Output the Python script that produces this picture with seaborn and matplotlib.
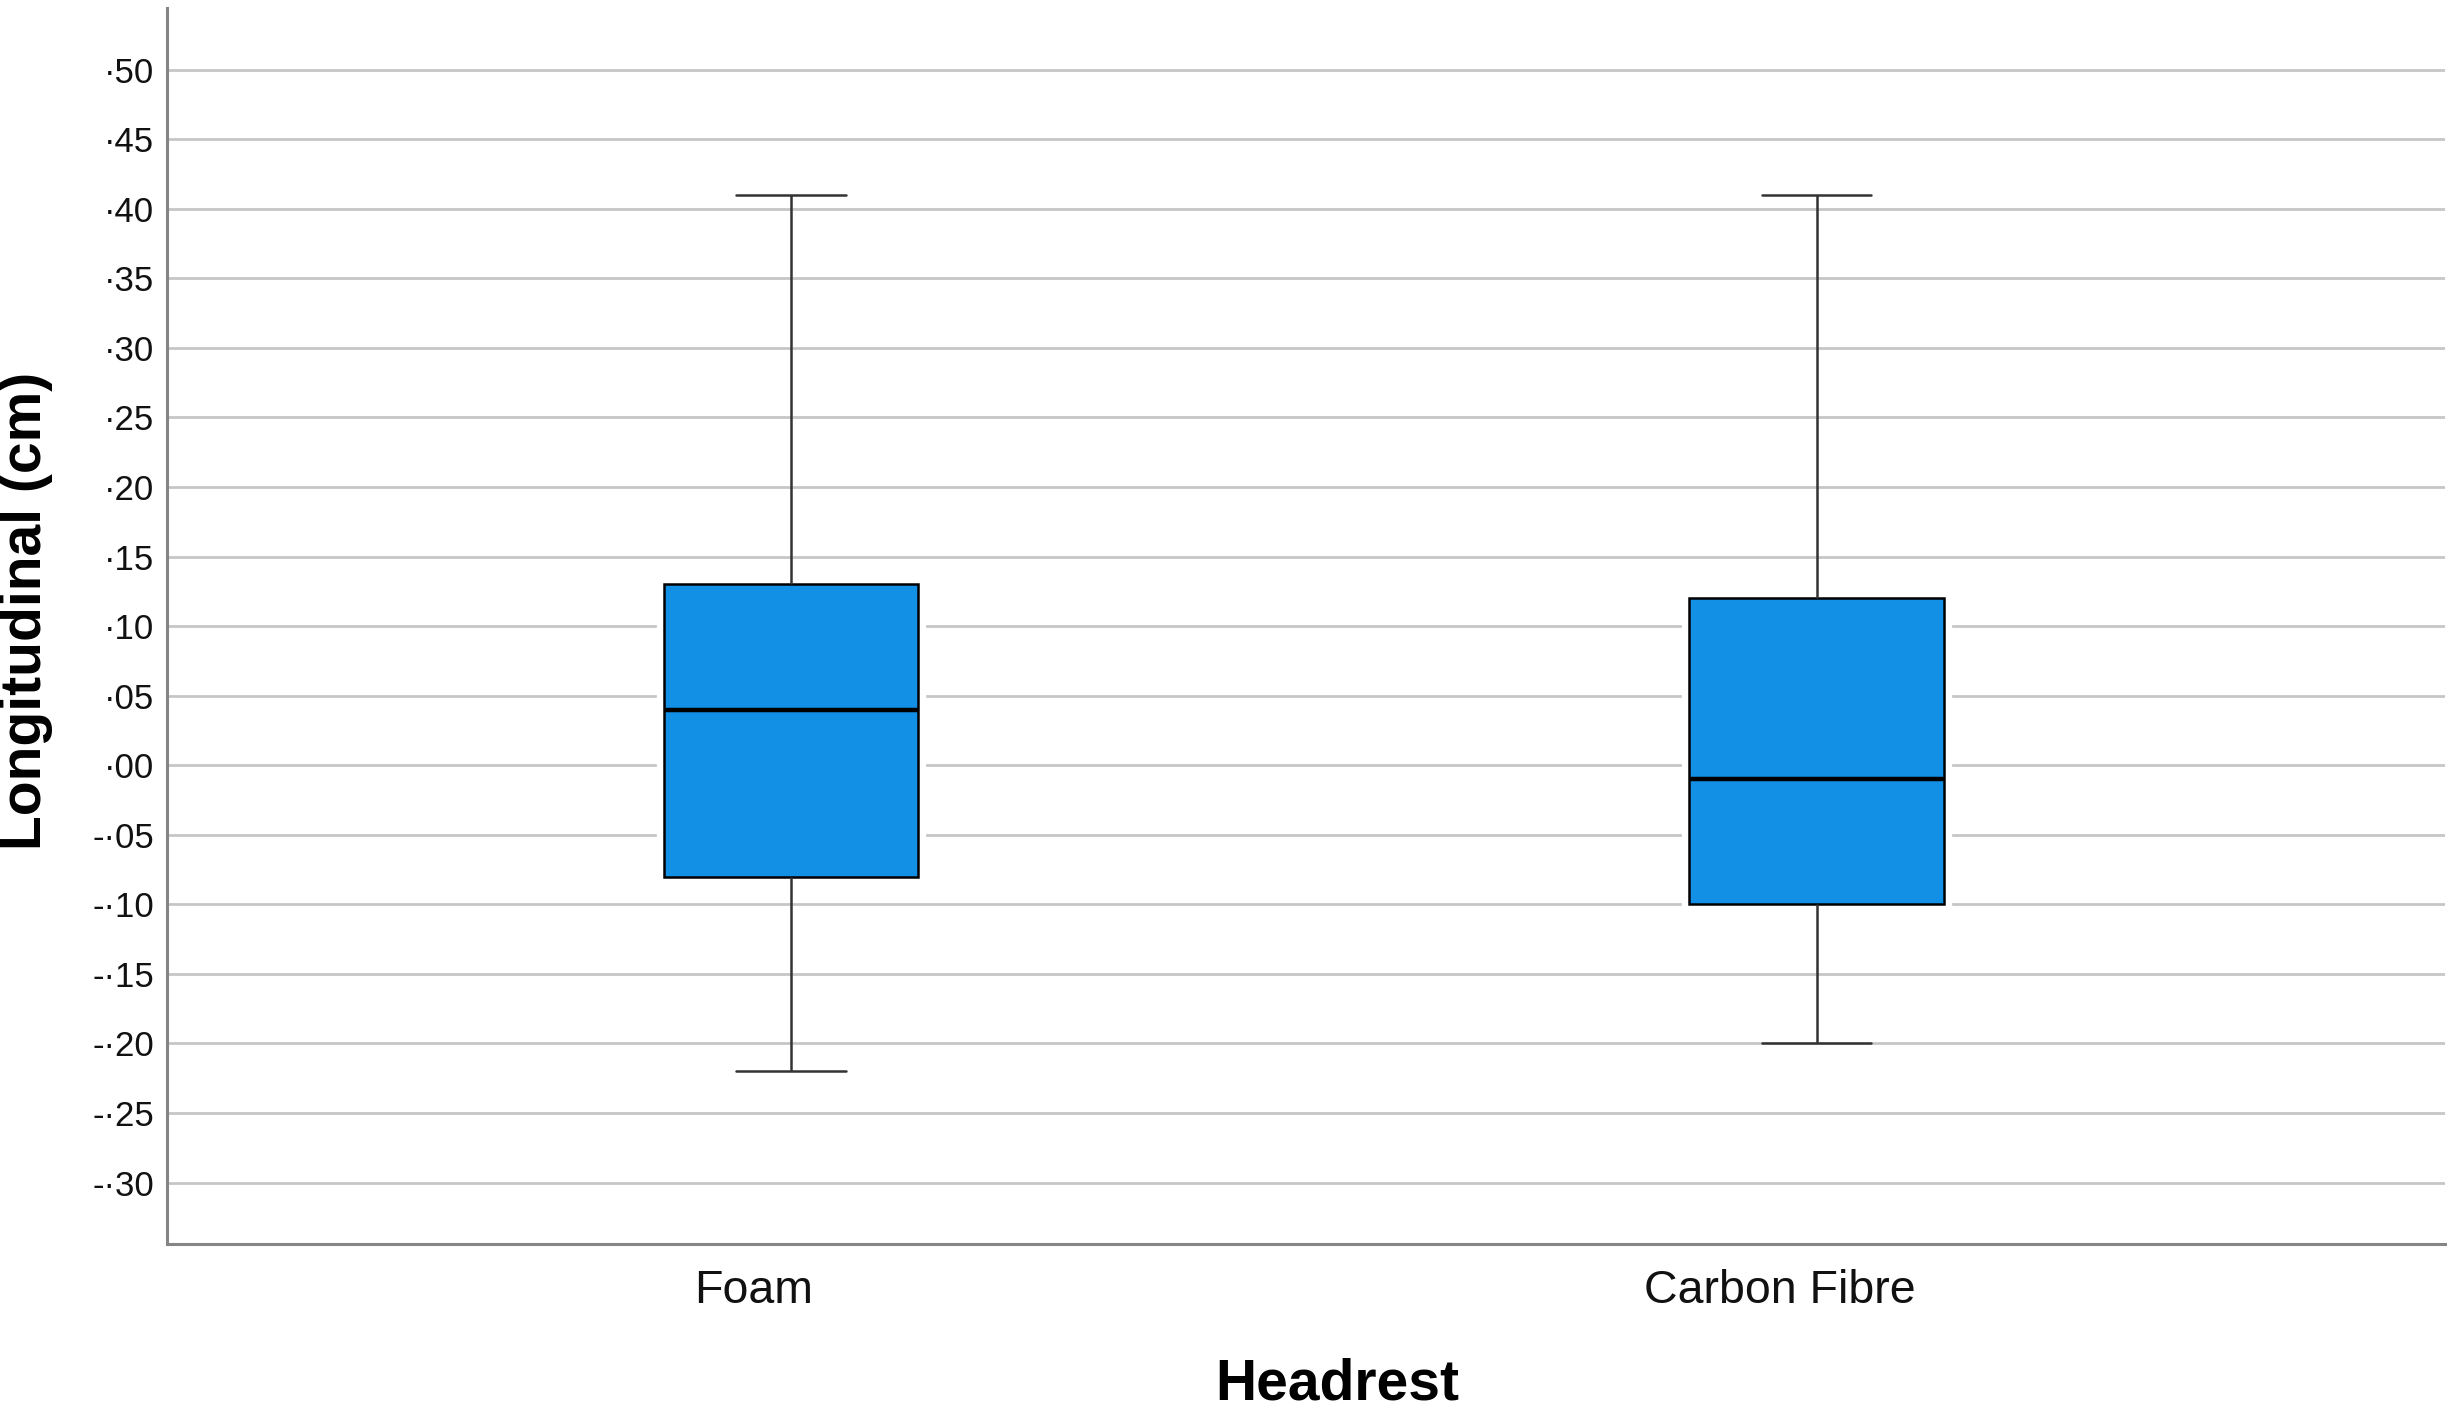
import matplotlib
matplotlib.use('Agg')
import matplotlib.pyplot as plt
import matplotlib.patheffects as pe
import matplotlib.transforms as mtransforms
from matplotlib.ticker import FuncFormatter
import pandas as pd
import seaborn as sns

headrests = ['Foam', 'Carbon Fibre']
# five-number summaries: min, Q1, median, Q3, max
foam_summary = [-0.22, -0.08, 0.04, 0.13, 0.41]
carbon_summary = [-0.20, -0.10, -0.01, 0.12, 0.41]
y_ticks = [-0.30, -0.25, -0.20, -0.15, -0.10, -0.05, 0.00,
           0.05, 0.10, 0.15, 0.20, 0.25, 0.30, 0.35, 0.40, 0.45, 0.50]

df = pd.DataFrame({
    'Headrest': [headrests[0]] * len(foam_summary) + [headrests[1]] * len(carbon_summary),
    'Longitudinal': foam_summary + carbon_summary,
})

sns.set_theme(style='whitegrid')
plt.rcParams['font.family'] = ['Liberation Sans', 'DejaVu Sans']

fig = plt.figure(figsize=(24.5, 14.07), dpi=100)
ax = fig.add_axes([0.068, 0.116, 0.93, 0.878])

sns.boxplot(
    data=df, x='Headrest', y='Longitudinal', order=headrests,
    color='#1290e6', saturation=1, width=0.248, whis=(0, 100),
    linewidth=1.8, linecolor='black', ax=ax,
    capwidths=0.107,
    medianprops={'color': 'black', 'linewidth': 3.2},
    whiskerprops={'color': '#333333', 'linewidth': 1.8},
    capprops={'color': '#333333', 'linewidth': 1.8},
    boxprops={'edgecolor': 'black', 'linewidth': 1.8},
)

# white halo round the boxes, so the grid stops short of them
for patch in ax.patches:
    patch.set_path_effects([pe.Stroke(linewidth=11, foreground='white'), pe.Normal()])

ax.set_xlim(-0.609, 1.613)
ax.set_ylim(-0.344, 0.544)
ax.set_yticks(y_ticks)
ax.yaxis.set_major_formatter(FuncFormatter(
    lambda v, p: ('-' if v < -1e-9 else '') + '\u00b7' + f'{abs(v) * 100:02.0f}'))

ax.yaxis.grid(True, color='#c6c6c6', linewidth=2)
ax.xaxis.grid(False)
ax.set_axisbelow(True)
for side in ['top', 'right']:
    ax.spines[side].set_visible(False)
for side in ['left', 'bottom']:
    ax.spines[side].set_color('#858585')
    ax.spines[side].set_linewidth(2.2)

ax.tick_params(axis='y', length=0, pad=9, labelsize=25, labelcolor='#111111')
ax.tick_params(axis='x', length=0, pad=18, labelsize=33.5, labelcolor='#111111')

# SPSS puts category labels a little left of the box centres
offset = mtransforms.ScaledTranslation(-0.37, 0, fig.dpi_scale_trans)
for lbl in ax.get_xticklabels():
    lbl.set_transform(lbl.get_transform() + offset)

ax.set_xlabel('Headrest', fontsize=41, fontweight='bold', color='black')
ax.set_ylabel('Longitudinal (cm)', fontsize=41, fontweight='bold', color='black')
ax.xaxis.set_label_coords(0.514, -0.092)
ax.yaxis.set_label_coords(-0.050, 0.512)

plt.savefig('out.png', dpi=100)
